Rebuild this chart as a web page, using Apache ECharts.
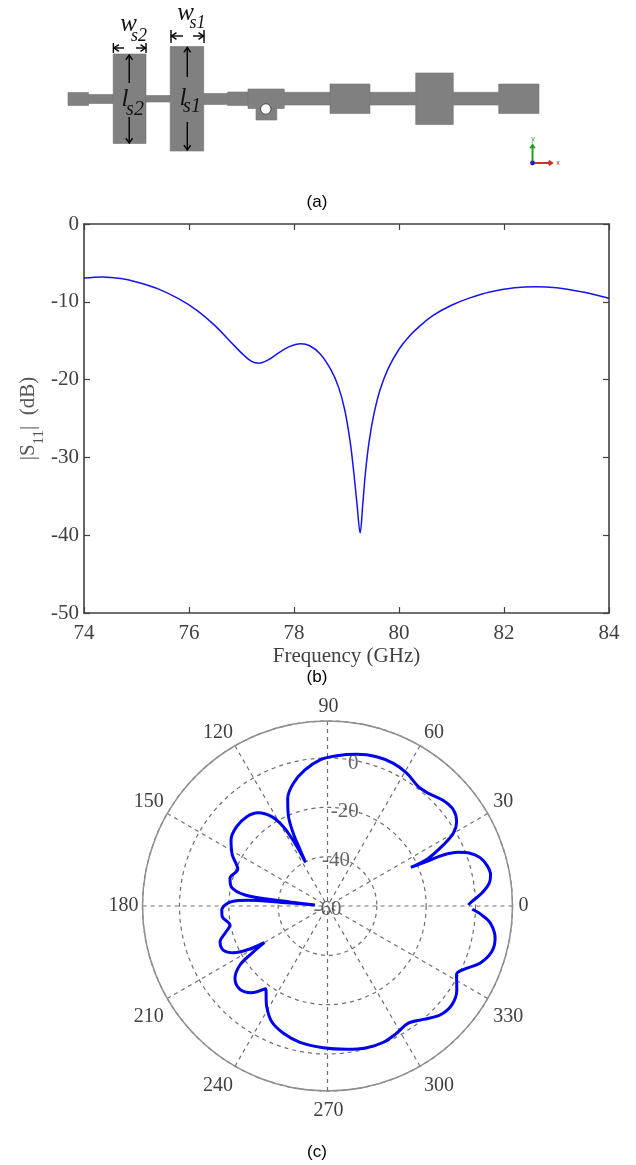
<!DOCTYPE html>
<html><head><meta charset="utf-8"><style>html,body{margin:0;background:#fff}#c{width:636px;height:1165px}</style>
<script src="https://cdn.jsdelivr.net/npm/echarts@6/dist/echarts.min.js"></script></head><body><div id="c"></div>
<script>
const freqGHz=[74,74.35,74.7,75,75.4,75.8,76.15,76.5,76.8,77.05,77.2,77.33,77.5,77.7,77.9,78.13,78.3,78.5,78.7,78.85,78.97,79.07,79.14,79.2,79.26,79.31,79.36,79.43,79.52,79.64,79.8,80,80.2,80.4,80.65,81,81.35,81.75,82.2,82.6,83,83.5,84];
const s11dB=[-6.95,-6.8,-7,-7.45,-8.3,-9.6,-11.1,-13.1,-15.2,-16.9,-17.7,-17.9,-17.5,-16.6,-15.8,-15.4,-15.65,-16.7,-18.7,-21,-24,-28,-32,-36,-39.7,-36,-32,-28,-24.5,-21.3,-18.5,-16.1,-14.4,-13.1,-11.75,-10.45,-9.5,-8.7,-8.2,-8.05,-8.2,-8.75,-9.54];
const patternAngle=[0.4,1.7,4.7,8,10.8,14.1,17.6,20.3,22.3,23.8,24.1,24.9,25.2,27.8,30,33.1,37.3,42.3,48.2,52.7,59.2,65.2,71.8,79.1,86.5,92.9,99.4,105.6,110.3,113.3,115.2,116,116.7,117.4,119.1,122,126.6,132.1,138.9,145.6,151.8,157.8,164.1,169,172.4,173.3,173.8,175.3,175.5,175.9,177.4,182.2,185.8,191,194.9,198.4,202.9,206.4,208.6,210.1,212,214,218,223.6,228.8,233.1,238.9,244.3,250.9,258.6,268.3,277.6,285.5,292.3,298.5,304.6,310.2,315.9,321.4,327,332.1,335.4,339.4,344.4,349.1,353.9,356.7,358.7];
const patternDb=[-2.9,-1.5,2.7,6.2,7.3,6.8,4.9,1.6,-2.7,-8.7,-15.2,-22.7,-15.2,-6.9,-1.1,2.5,4.2,3.5,1.3,0.8,2.7,3.7,3.7,2.6,1,-0.7,-4.1,-8.4,-13.5,-19.8,-27.4,-35.3,-40.2,-31.4,-23.2,-17.3,-12.9,-11.2,-11.1,-12.6,-16.2,-20.7,-18.9,-20.4,-26.3,-34.5,-44.7,-54.9,-41.4,-27.8,-21.1,-17.1,-17.1,-19.7,-17,-14.1,-14.1,-17.4,-22.7,-30.4,-23.8,-17.2,-12.4,-11,-13.3,-18.1,-12.3,-7.9,-5.4,-3.6,-2.5,-1.4,-0.4,-0.3,-1.3,-2.3,0.2,3.5,4.4,2.5,-0.8,1.3,6,9.1,9.2,6.5,2.6,-1.3];
const radialTicks=[-60,-40,-20,0];
const radialTickAngle=80;

const serif='"Liberation Serif"',sans='"Liberation Sans"',ink='#404040',G='#808080';
const rect=(x1,y1,x2,y2)=>({type:'rect',shape:{x:x1,y:y1,width:x2-x1,height:y2-y1},style:{fill:G,stroke:'#747474',lineWidth:.6}});
const seg=(x1,y1,x2,y2,c='#000',w=1.4)=>({type:'line',shape:{x1,y1,x2,y2},style:{stroke:c,lineWidth:w}});
const arrow=(x1,y1,x2,y2,c='#000',w=1.4,h=6)=>{const a=Math.atan2(y2-y1,x2-x1),p=.6;return[seg(x1,y1,x2,y2,c,w),{type:'polyline',shape:{points:[[x2-h*Math.cos(a-p),y2-h*Math.sin(a-p)],[x2,y2],[x2-h*Math.cos(a+p),y2-h*Math.sin(a+p)]]},style:{stroke:c,lineWidth:w,fill:null}}]};
const txt=(x,y,t,fs,ff=serif,st='italic',c='#111')=>({type:'text',x,y,style:{text:t,fontSize:fs,fontFamily:ff,fontStyle:st,fill:c,align:'center',verticalAlign:'middle'}});
const bodies=[rect(68,92.5,88.6,105.5),rect(88.6,94.5,113.2,103.5),rect(113.2,54,146,143.5),rect(146,95.5,170.2,102),rect(170.2,46.5,203.7,151),rect(203.7,93.5,227.6,104.5),rect(227.6,92,248,105.5),rect(248,89,284.3,108.5),rect(256,108.5,276.8,120),rect(284.3,92.3,330,105),rect(330,84,370,113.5),rect(370,92.3,415.7,105),rect(415.7,73,453.3,124.5),rect(453.3,92.3,498.7,105),rect(498.7,84,539,113.5),
 {type:'circle',shape:{cx:265.8,cy:109,r:5.2},style:{fill:'#fff',stroke:'#333',lineWidth:.8}}];
const marks=[seg(113.4,43,113.4,53),seg(146,43,146,53),seg(171,30,171,43),seg(204,30,204,43),
 ...arrow(124,48,114,48),...arrow(136,48,145.5,48),...arrow(183,36,171.5,36),...arrow(193,36,203.5,36),
 ...arrow(129.2,83,129.2,55),...arrow(129.2,117,129.2,143),...arrow(187.3,77,187.3,47.5),...arrow(187.3,122,187.3,150),
 txt(128.5,24,'w',25),txt(139,36,'s2',18),txt(185.6,13,'w',25),txt(197.5,23,'s1',18),
 txt(125,99,'l',25),txt(135,110,'s2',20),txt(183,98,'l',25),txt(192,107,'s1',20),
 ...arrow(532.5,163,532.5,145,'#1fa01f',2,4),...arrow(532.5,163,552,163,'#c8342c',2,4),
 {type:'circle',shape:{cx:532.5,cy:163,r:2.4},style:{fill:'#2020d0'}},
 txt(533,139,'y',7,sans,'normal','#1fa01f'),txt(558,163.5,'x',7,sans,'normal','#d02020')];
const captions=[txt(317,202,'(a)',17,sans,'normal','#000'),txt(317,677,'(b)',17,sans,'normal','#000'),txt(317,1152,'(c)',17,sans,'normal','#000')];

const tickStyle={inside:true,length:6,lineStyle:{color:ink,width:1.2}},lineSt={onZero:false,lineStyle:{color:ink,width:1.6}};
const label={fontFamily:serif,fontSize:21,color:ink};
const chart=echarts.init(document.getElementById('c'),null,{renderer:'canvas'});
chart.setOption({animation:false,backgroundColor:'#fff',
 grid:{left:84,top:224,width:525,height:389,containLabel:false},
 xAxis:[{type:'value',min:74,max:84,interval:2,gridIndex:0,splitLine:{show:false},axisLine:lineSt,axisTick:tickStyle,axisLabel:{...label,margin:10},
   name:'Frequency (GHz)',nameLocation:'middle',nameGap:33,nameTextStyle:{fontFamily:serif,fontSize:21,color:ink}},
  {type:'value',min:74,max:84,interval:2,position:'top',splitLine:{show:false},axisLine:lineSt,axisTick:tickStyle,axisLabel:{show:false}}],
 yAxis:[{type:'value',min:-50,max:0,interval:10,splitLine:{show:false},axisLine:lineSt,axisTick:tickStyle,axisLabel:{...label,margin:5,padding:[4,0,0,0]},
   name:'|S{s|11}|  (dB)',nameLocation:'middle',nameGap:37,nameMoveOverlap:false,nameTextStyle:{fontFamily:serif,fontSize:21,color:'#555',rich:{s:{fontFamily:serif,fontSize:15,lineHeight:38,color:'#555',verticalAlign:'bottom'}}}},
  {type:'value',min:-50,max:0,interval:10,position:'right',splitLine:{show:false},axisLine:lineSt,axisTick:tickStyle,axisLabel:{show:false}}],
 polar:{center:[327.5,906],radius:185},
 angleAxis:{type:'value',min:0,max:360,interval:30,startAngle:0,clockwise:false,
   axisLine:{lineStyle:{color:'#8f8f8f',width:1.5}},axisTick:{show:false},axisLabel:{...label,fontSize:20,margin:4,padding:[6,0,0,2]},
   splitLine:{show:true,lineStyle:{color:'#6e6e6e',type:[4,4],width:1.2}}},
 radiusAxis:{type:'value',min:-60,max:15,interval:20,axisLine:{show:false},axisTick:{show:false},axisLabel:{show:false},
   splitLine:{show:true,lineStyle:{color:'#6e6e6e',type:[4,4],width:1.2}}},
 series:[
  {type:'line',xAxisIndex:0,yAxisIndex:0,data:freqGHz.map((f,i)=>[f,s11dB[i]]),showSymbol:false,smooth:.35,lineStyle:{color:'#1414f0',width:1.5},z:3},
  {type:'line',coordinateSystem:'polar',data:patternDb.map((d,i)=>[d,patternAngle[i]]),showSymbol:false,smooth:.35,lineStyle:{color:'#0000f0',width:3},z:3},
  {type:'scatter',coordinateSystem:'polar',data:radialTicks.map(v=>[v,radialTickAngle]),symbolSize:0,z:4,silent:true,
   label:{show:true,position:'inside',offset:[0,3],formatter:p=>String(p.value[0]),fontFamily:serif,fontSize:21,color:ink}}
 ],
 graphic:{elements:[...bodies,...marks,...captions]}
});
</script></body></html>
